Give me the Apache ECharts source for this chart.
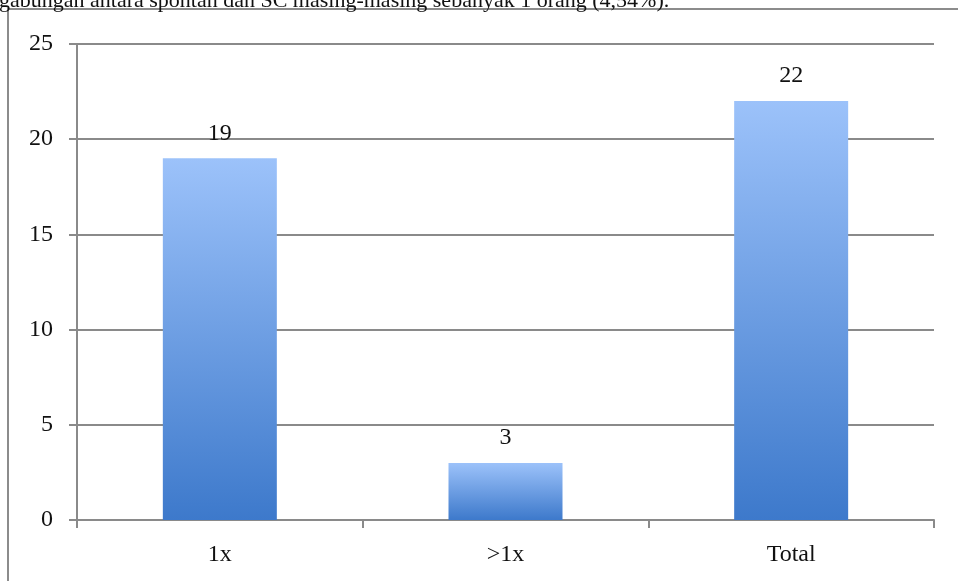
<!DOCTYPE html>
<html>
<head>
<meta charset="utf-8">
<script src="https://cdn.jsdelivr.net/npm/echarts@6/dist/echarts.min.js"></script>
<style>
  html, body { margin: 0; padding: 0; background: #fff; }
  #chart { width: 958px; height: 581px; }
</style>
</head>
<body>
<div id="chart"></div>
<script>
// Frequency counts per category
const categories = ['1x', '>1x', 'Total'];
const counts = [19, 3, 22];
const yTicks = { min: 0, max: 25, interval: 5 };
const captionText = 'gabungan antara spontan dan SC masing-masing sebanyak 1 orang (4,54%).';

const serif = '"Liberation Serif", "DejaVu Serif", serif';
const lineColor = '#8a8a8a';

const chart = echarts.init(document.getElementById('chart'));
chart.setOption({
  animation: false,
  backgroundColor: '#ffffff',
  graphic: [
    {
      type: 'text',
      left: -1,
      top: -10,
      style: { text: captionText, font: '22px ' + serif, fill: '#111' }
    },
    {
      type: 'rect',
      shape: { x: 8, y: 9, width: 1000, height: 620 },
      style: { fill: 'none', stroke: '#8c8c8c', lineWidth: 2 },
      z: -1
    }
  ],
  grid: { left: 77, right: 24, top: 44, bottom: 61 },
  xAxis: {
    type: 'category',
    data: categories,
    boundaryGap: true,
    axisLine: { lineStyle: { color: lineColor, width: 2 } },
    axisTick: { show: true, length: 8, lineStyle: { color: lineColor, width: 2 } },
    axisLabel: { color: '#111', fontFamily: serif, fontSize: 24, margin: 23 }
  },
  yAxis: {
    type: 'value',
    min: yTicks.min,
    max: yTicks.max,
    interval: yTicks.interval,
    axisLine: { show: true, lineStyle: { color: lineColor, width: 2 } },
    axisTick: { show: true, length: 8, lineStyle: { color: lineColor, width: 2 } },
    splitLine: { lineStyle: { color: lineColor, width: 2 } },
    axisLabel: { color: '#111', fontFamily: serif, fontSize: 24, margin: 24 }
  },
  series: [{
    type: 'bar',
    data: counts,
    barWidth: 114,
    itemStyle: {
      color: new echarts.graphic.LinearGradient(0, 0, 0, 1, [
        { offset: 0, color: '#9cc2fa' },
        { offset: 1, color: '#3d79cb' }
      ])
    },
    label: {
      show: true,
      position: 'top',
      distance: 13,
      color: '#111',
      fontFamily: serif,
      fontSize: 24
    }
  }]
});
</script>
</body>
</html>
